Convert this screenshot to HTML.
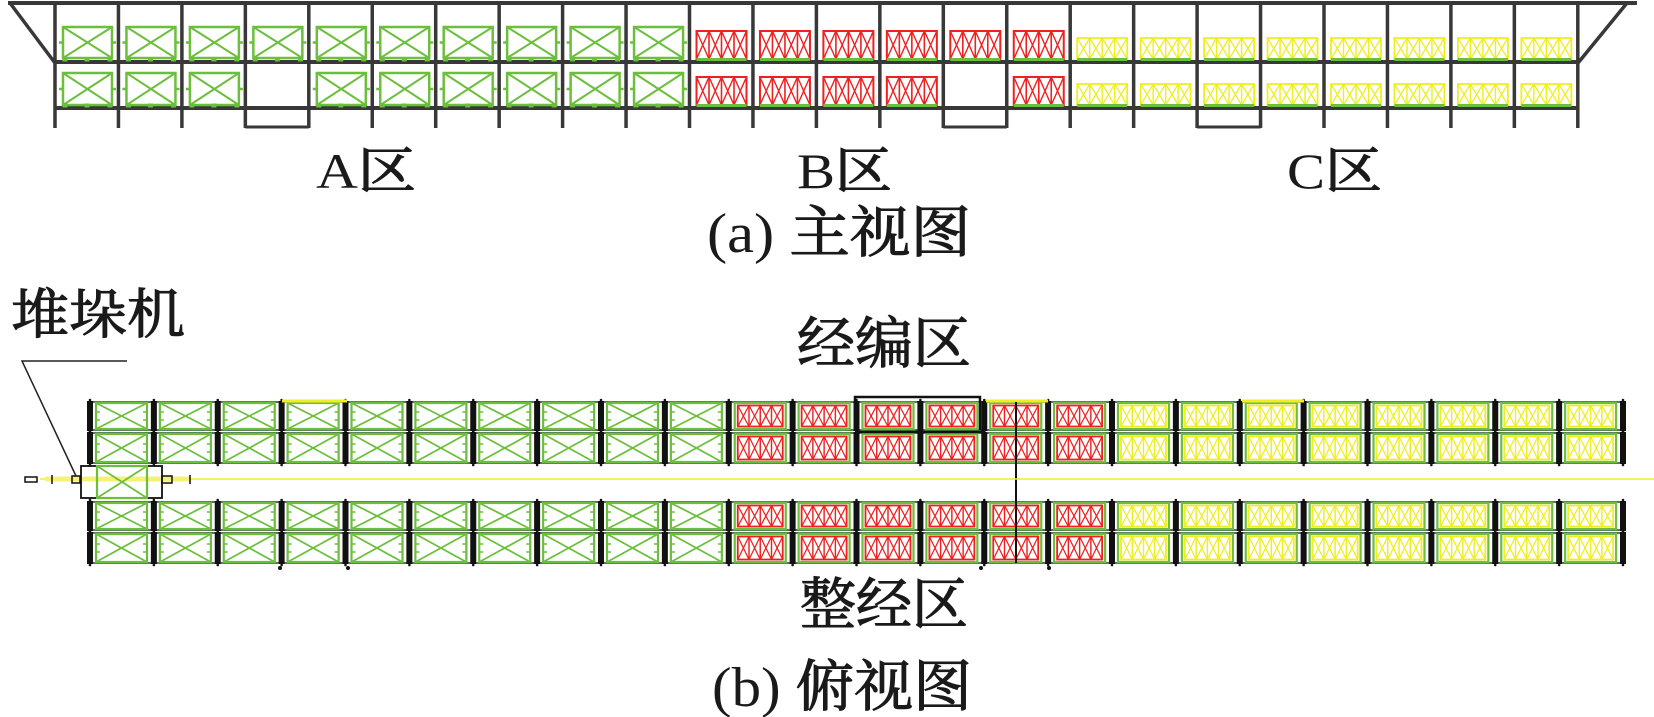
<!DOCTYPE html>
<html><head><meta charset="utf-8">
<style>
html,body{margin:0;padding:0;background:#fff;width:1654px;height:717px;overflow:hidden}
svg{display:block}
.t{font-family:"Liberation Serif","Noto Serif CJK SC",serif;fill:#1a1a1a}
.c{stroke:#1a1a1a;stroke-width:1.1}
</style></head>
<body>
<svg id="s" xmlns="http://www.w3.org/2000/svg" width="1654" height="717" viewBox="0 0 1654 717">
<g id="g"></g>
<text class="t" x="316" y="188" font-size="50" textLength="100" lengthAdjust="spacingAndGlyphs">A<tspan class="c">区</tspan></text>
<text class="t" x="797" y="188" font-size="50" textLength="95" lengthAdjust="spacingAndGlyphs">B<tspan class="c">区</tspan></text>
<text class="t" x="1287" y="188" font-size="50" textLength="95" lengthAdjust="spacingAndGlyphs">C<tspan class="c">区</tspan></text>
<text class="t" x="707" y="252" font-size="56" textLength="264" lengthAdjust="spacingAndGlyphs">(a) <tspan class="c">主视图</tspan></text>
<text class="t c" x="11" y="333" font-size="54" textLength="174" lengthAdjust="spacingAndGlyphs">堆垛机</text>
<text class="t c" x="797" y="363" font-size="56" textLength="174" lengthAdjust="spacingAndGlyphs">经编区</text>
<text class="t c" x="800" y="624" font-size="56" textLength="168" lengthAdjust="spacingAndGlyphs">整经区</text>
<text class="t" x="712" y="706" font-size="56" textLength="260" lengthAdjust="spacingAndGlyphs">(b) <tspan class="c">俯视图</tspan></text>
</svg>
<script>
(function(){
var g=document.getElementById('g'),NS='http://www.w3.org/2000/svg';
function el(t,a){var e=document.createElementNS(NS,t);for(var k in a)e.setAttribute(k,a[k]);g.appendChild(e);return e;}
function L(x1,y1,x2,y2,c,w){el('line',{x1:x1,y1:y1,x2:x2,y2:y2,stroke:c,'stroke-width':w});}
function R(x,y,w,h,c,sw,f){el('rect',{x:x,y:y,width:w,height:h,fill:f||'none',stroke:c,'stroke-width':sw});}
var GR='#6cbf3c',RD='#ee2020',YE='#eeee22',DK='#383838';
function gbox(x,y,w,h,sw){R(x,y,w,h,GR,sw);L(x,y,x+w,y+h,GR,sw*0.8);L(x,y+h,x+w,y,GR,sw*0.8);}
function cells(x,y,w,h,c,sw){R(x,y,w,h,c,sw);var n=4,cw=w/n;for(var i=0;i<n;i++){var a=x+i*cw;if(i>0)L(a,y,a,y+h,c,sw*0.8);L(a,y,a+cw,y+h,c,sw*0.7);L(a,y+h,a+cw,y,c,sw*0.7);}}
function P(k){return 55+k*63.45;}
L(8,3,1637,3,DK,4);L(55,62,1578,62,DK,4);L(55,108,1578,108,DK,4);
L(10,3,55,63,DK,3.5);L(1627,3,1578,63,DK,3.5);
for(var k=0;k<=24;k++)L(P(k),3,P(k),128,DK,3.5);
[3,14,18].forEach(function(k){L(P(k),127,P(k+1),127,DK,3);});
for(var k=0;k<24;k++){
 var p=P(k);
 for(var r=0;r<2;r++){
  if(r==1&&(k==3||k==14))continue;
  var base=r?108:62;
  if(k<10){var y=r?73:27,h=r?32:31;gbox(p+8,y,49,h,2.5);L(p+4,y+h/2,p+8,y+h/2,GR,2.5);L(p+57,y+h/2,p+61,y+h/2,GR,2.5);
   [p+10,p+32,p+55].forEach(function(x){R(x-2,base-4,4,3,GR,1,GR);});}
  else if(k<16){var y=r?77:31;cells(p+7,y,50,base-3-y,RD,2);R(p+7,base-4,50,3,GR,0,GR);}
  else{var y=r?84:38;cells(p+7,y,50,base-3-y,YE,1.8);R(p+7,base-4,50,3,GR,0,GR);}
 }
}
function U(k){return 90+k*63.875;}
var rows=[[402,430],[433,463],[502,530],[533,563]];
rows.forEach(function(rr){
 var y0=rr[0],y1=rr[1],h=y1-y0;
 L(88,y0,1625,y0,'#1f4a1f',1.5);L(88,y1,1625,y1,'#1f4a1f',1.5);
 for(var k=0;k<24;k++){
  var u=U(k);
  if(k<10){gbox(u+6,y0+1,51,h-2,2.2);L(u+6,y0+h/2-4,u+10,y0+h/2-4,GR,1.5);L(u+53,y0+h/2-4,u+57,y0+h/2-4,GR,1.5);L(u+6,y0+h/2+4,u+10,y0+h/2+4,GR,1.5);L(u+53,y0+h/2+4,u+57,y0+h/2+4,GR,1.5);}
  else if(k<16){R(u+6,y0+1,51,h-2,GR,2.2);cells(u+9,y0+3.5,45,h-7,RD,1.8);}
  else{R(u+6,y0+1,51,h-2,GR,2.2);cells(u+9,y0+3.5,45,h-7,YE,1.8);}
 }
 for(var k=0;k<=24;k++){R(U(k)-3,y0-1,6,h+2,'none',0,'#111');el('circle',{cx:U(k),cy:y0-2,r:1.3,fill:'#111'});el('circle',{cx:U(k),cy:y1+2,r:1.3,fill:'#111'});}
});
[[282,347],[986,1048],[1242,1304]].forEach(function(a){L(a[0],401,a[1],401,YE,3);});
el('path',{d:'M855,430 V397 H980 V430',fill:'none',stroke:'#111','stroke-width':2.5});
L(855,432,984,432,'#111',2.5);
L(1016,402,1016,563,'#111',2);
[280,348,981,1049].forEach(function(x){el('circle',{cx:x,cy:568,r:2,fill:'#111'});});
L(40,479,1654,479,YE,1.5);
R(45,476.5,145,5,'none',0,'#f4f07a');
R(25,477,12,5,'#111',1.5);
L(52,475,52,484,'#111',1.5);L(190,475,190,484,'#111',1.5);
R(81,466,81,32,'#111',1.8);
gbox(97,466,50,32,2.2);
R(72,476,8,7,'#111',1.5);R(162,476,10,7,'#111',1.5);
el('polyline',{points:'127,361 22,361 76,476',fill:'none',stroke:'#222','stroke-width':1.5});
})();
</script>
</body></html>
